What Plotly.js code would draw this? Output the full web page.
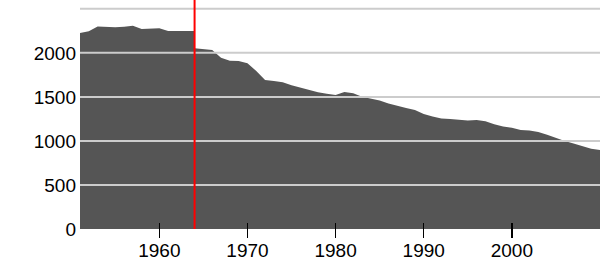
<!DOCTYPE html>
<html>
<head>
<meta charset="utf-8">
<script src="https://cdn.plot.ly/plotly-3.0.1.min.js"></script>
<style>html,body{margin:0;padding:0;background:#fff;}#chart{width:600px;height:260px;}</style>
</head>
<body>
<div id="chart"></div>
<script>
// Series before the break (1951-1964)
const yearsBefore = [1951,1952,1953,1954,1955,1956,1957,1958,1959,1960,1961,1962,1963,1964];
const valuesBefore = [2225,2245,2300,2293,2292,2295,2308,2272,2274,2280,2248,2248,2248,2248];

// Series after the break (1964-2010)
const yearsAfter = [1964,1965,1966,1967,1968,1969,1970,1971,1972,1973,1974,1975,1976,1977,1978,1979,
  1980,1981,1982,1983,1984,1985,1986,1987,1988,1989,1990,1991,1992,1993,1994,1995,1996,1997,1998,1999,
  2000,2001,2002,2003,2004,2005,2006,2007,2008,2009,2010];
const valuesAfter = [2052,2046,2032,1945,1911,1907,1881,1794,1692,1679,1665,1633,1604,1579,1554,1535,
  1521,1555,1541,1502,1480,1460,1425,1396,1375,1350,1305,1278,1255,1248,1240,1232,1237,1222,1190,1165,
  1150,1124,1117,1100,1070,1030,998,970,937,912,897];

const xTickVals = [1960,1970,1980,1990,2000];
const yTickVals = [0,500,1000,1500,2000];
const gridVals = [500,1000,1500,2000,2500];
const markerYear = 1964;

const FONT = 'Liberation Sans, Arial, Helvetica, sans-serif';
const AREA = '#555555';

const traces = [
  {x: yearsBefore, y: valuesBefore, type:'scatter', mode:'lines', fill:'tozeroy',
   fillcolor: AREA, line:{width:0, color:AREA}, hoverinfo:'skip'},
  {x: yearsAfter, y: valuesAfter, type:'scatter', mode:'lines', fill:'tozeroy',
   fillcolor: AREA, line:{width:0, color:AREA}, hoverinfo:'skip'}
];

const shapes = gridVals.map(v => ({
  type:'line', xref:'paper', yref:'y', x0:0, x1:1, y0:v, y1:v,
  line:{color:'#cccccc', width:2}, layer:'above'
}));
shapes.push({type:'line', xref:'x', yref:'paper', x0:markerYear, x1:markerYear, y0:0, y1:1,
  line:{color:'#ff0000', width:2}, layer:'above'});

const layout = {
  width:600, height:260,
  margin:{l:80, r:0, t:0, b:31, pad:0},
  paper_bgcolor:'#ffffff', plot_bgcolor:'#ffffff',
  showlegend:false, hovermode:false,
  font:{family:FONT, size:19, color:'#000000'},
  xaxis:{
    range:[1951,2010], tickvals:xTickVals, ticktext:xTickVals.map(String),
    ticks:'outside', ticklen:15, tickwidth:1.5, tickcolor:'#000000',
    showgrid:false, zeroline:false, showline:false,
    anchor:'free', position:7/229, layer:'above traces',
    ticklabelstandoff:-4,
    tickfont:{family:FONT, size:19, color:'#000000'}
  },
  yaxis:{
    range:[0,2600], tickvals:yTickVals, ticktext:yTickVals.map(String),
    ticks:'', showgrid:false, zeroline:false, showline:false,
    ticklabelstandoff:3,
    tickfont:{family:FONT, size:19, color:'#000000'}
  },
  shapes: shapes
};

Plotly.newPlot('chart', traces, layout, {displayModeBar:false, staticPlot:true});
</script>
</body>
</html>
